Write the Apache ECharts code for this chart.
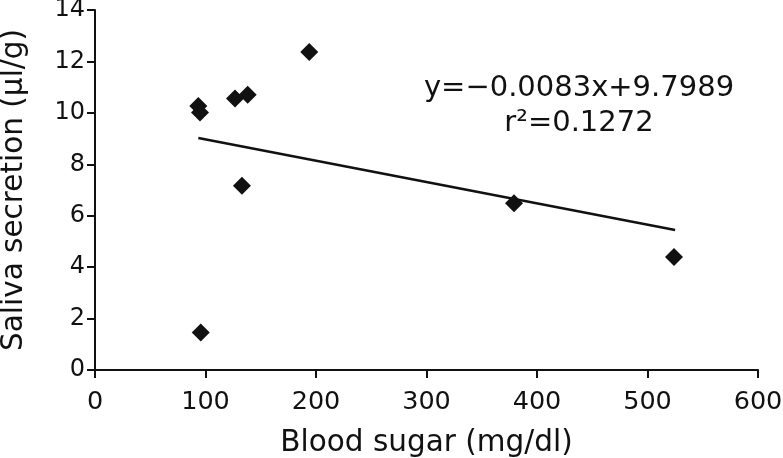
<!DOCTYPE html>
<html>
<head>
<meta charset="utf-8">
<script src="https://cdn.jsdelivr.net/npm/echarts@6/dist/echarts.min.js"></script>
<style>html,body{margin:0;padding:0;background:#fff}#c{width:783px;height:458px}</style>
</head>
<body>
<div id="c"></div>
<script>
// Data
var bloodSugar = [93.5, 95, 95.7, 126.7, 133, 138.2, 193.9, 379.2, 524];
var saliva     = [10.27, 10.01, 1.46, 10.56, 7.17, 10.70, 12.37, 6.48, 4.39];
var slope = -0.0083, intercept = 9.7989;
var trendX = [93.5, 525];
var eqLine1 = 'y=\u22120.0083x+9.7989';
var eqLine2 = 'r\u00B2=0.1272';
var xTitle = 'Blood sugar (mg/dl)';
var yTitle = 'Saliva secretion (\u00B5l/g)';

var pts = bloodSugar.map(function(x, i){ return [x, saliva[i]]; });
var trend = trendX.map(function(x){ return [x, slope * x + intercept]; });
var font = 'DejaVu Sans, Verdana, sans-serif';

var chart = echarts.init(document.getElementById('c'), null, {renderer: 'canvas'});
chart.setOption({
  animation: false,
  backgroundColor: '#fff',
  grid: {left: 95, right: 25, top: 10, bottom: 88, containLabel: false, outerBoundsMode: 'none'},
  xAxis: {
    type: 'value', min: 0, max: 600, interval: 100,
    name: xTitle, nameLocation: 'middle', nameGap: 58,
    nameTextStyle: {fontFamily: font, fontSize: 29.5, color: '#111'},
    axisLine: {show: true, onZero: false, lineStyle: {color: '#111', width: 2}},
    axisTick: {show: true, length: 8, inside: false, lineStyle: {color: '#111', width: 2}},
    axisLabel: {fontFamily: font, fontSize: 25.5, color: '#111', margin: 19},
    splitLine: {show: false}
  },
  yAxis: {
    type: 'value', min: 0, max: 14, interval: 2,
    name: yTitle, nameLocation: 'middle', nameGap: 66, nameRotate: 90,
    nameTextStyle: {fontFamily: font, fontSize: 29.5, color: '#111'},
    axisLine: {show: true, onZero: false, lineStyle: {color: '#111', width: 2}},
    axisTick: {show: true, length: 8, inside: false, lineStyle: {color: '#111', width: 2}},
    axisLabel: {fontFamily: font, fontSize: 24, color: '#111', margin: 10},
    splitLine: {show: false}
  },
  series: [
    {
      type: 'line', data: trend, symbol: 'none', silent: true,
      lineStyle: {color: '#111', width: 2.5}, z: 1
    },
    {
      type: 'scatter', data: pts, symbol: 'diamond', symbolSize: [18, 18],
      itemStyle: {color: '#111', opacity: 1}, z: 2
    }
  ],
  graphic: [
    {type: 'text', x: 579, y: 88, style: {text: eqLine1, fontFamily: font, fontSize: 29, fill: '#111', align: 'center', verticalAlign: 'middle'}},
    {type: 'text', x: 579, y: 123, style: {text: eqLine2, fontFamily: font, fontSize: 29, fill: '#111', align: 'center', verticalAlign: 'middle'}}
  ]
});
</script>
</body>
</html>
